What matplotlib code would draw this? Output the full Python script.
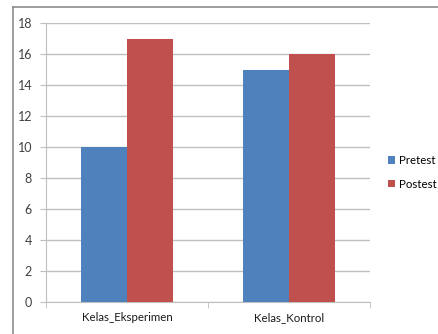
import numpy as np
import matplotlib.pyplot as plt
from matplotlib.lines import Line2D

plt.rcParams['font.family'] = ['Lato', 'DejaVu Sans']

# nilai rata-rata per kelas
kelas = ['Kelas_Eksperimen', 'Kelas_Kontrol']
pretest = [10, 15]
postest = [17, 16]
seri = ['Pretest', 'Postest']
warna = ['#4F81BD', '#C0504D']
grid_col = '#BFBFBF'
text_col = '#404040'

fig = plt.figure(figsize=(4.39, 3.34), dpi=100)
ax = fig.add_axes([46 / 439, 1 - 302 / 334, 324 / 439, 279 / 334])

x = np.arange(len(kelas))
w = 46 / 162
ax.bar(x - w / 2, pretest, w, color=warna[0], label=seri[0], zorder=3)
ax.bar(x + w / 2, postest, w, color=warna[1], label=seri[1], zorder=3)

ax.set_xlim(-0.5, len(kelas) - 0.5)
ax.set_ylim(0, 18)
ax.set_yticks(range(0, 19, 2))
ax.yaxis.grid(True, color=grid_col, linewidth=1, zorder=0)
ax.tick_params(axis='y', length=4, color=grid_col, labelsize=9,
               labelcolor=text_col, pad=6)

# label kategori di tengah, garis pemisah di batas kategori
ax.set_xticks(x)
ax.set_xticklabels(kelas)
ax.tick_params(axis='x', length=0, labelsize=8.3, labelcolor='#1a1a1a', pad=7)
ax.set_xticks(np.arange(-0.5, len(kelas)), minor=True)
ax.tick_params(axis='x', which='minor', length=4, color=grid_col)

for s in ['top', 'right']:
    ax.spines[s].set_visible(False)
for s in ['left', 'bottom']:
    ax.spines[s].set_color(grid_col)

ax.legend(loc='center left', bbox_to_anchor=(1.0, 0.465), frameon=False,
          fontsize=8.3, handlelength=0.6, handleheight=0.6, handletextpad=0.3,
          labelspacing=1.1, borderaxespad=1.2)

# bingkai luar grafik
fig.add_artist(Line2D([13 / 439, 13 / 439], [0, 1 - 7 / 334],
                      color='#8C8C8C', linewidth=1.2))
fig.add_artist(Line2D([13 / 439, 1], [1 - 7 / 334, 1 - 7 / 334],
                      color='#8C8C8C', linewidth=1.2))

fig.savefig('out.png', dpi=100)
